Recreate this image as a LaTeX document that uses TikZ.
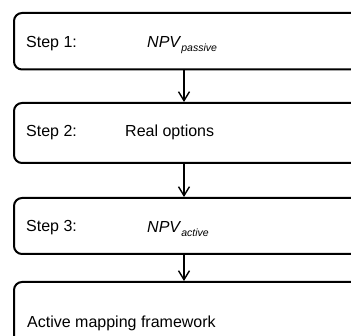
\documentclass[tikz,border=0pt]{standalone}
\usepackage{fontspec}
\setmainfont{Liberation Sans}
\usetikzlibrary{arrows.meta}
\tikzset{
  stepbox/.style={draw=black, line width=2pt, rounded corners=8pt, rectangle,
    anchor=north west, minimum width=400pt, inner sep=0pt},
  lbl/.style={anchor=base west, inner sep=0pt, font=\fontsize{16}{19}\selectfont},
  arr/.style={line width=1.3pt, -{Straight Barb[length=9pt,width=11pt,line width=1.4pt]}}
}
\begin{document}
\begin{tikzpicture}[x=1pt,y=1pt]
\useasboundingbox (0,0) rectangle (351,-336);
\clip (0,0) rectangle (351,-336);
\node[stepbox, minimum height=56.5pt] (b1) at (13,-12) {};
\node[stepbox, minimum height=60pt] (b2) at (13,-102) {};
\node[stepbox, minimum height=56pt] (b3) at (13,-197) {};
\node[stepbox, minimum height=66pt] (b4) at (13,-281) {};
\coordinate (ax) at (184,0);
\node[lbl] (s1) at (26,-48) {Step 1:};
\node[lbl] (v1) at (147,-48) {\textit{NPV}\raisebox{-4pt}{\fontsize{10.5}{12}\selectfont\textit{passive}}};
\node[lbl] (s2) at (26,-137) {Step 2:};
\node[lbl] (v2) at (125,-137) {Real options};
\node[lbl] (s3) at (26,-232) {Step 3:};
\node[lbl] (v3) at (147,-233) {\textit{NPV}\raisebox{-4pt}{\fontsize{10.5}{12}\selectfont\textit{active}}};
\node[lbl] (s4) at (27,-328) {Active mapping framework};
\draw[arr] (b1.south -| ax) -- (b2.north -| ax);
\draw[arr] (b2.south -| ax) -- (b3.north -| ax);
\draw[arr] (b3.south -| ax) -- (b4.north -| ax);
\end{tikzpicture}
\end{document}
